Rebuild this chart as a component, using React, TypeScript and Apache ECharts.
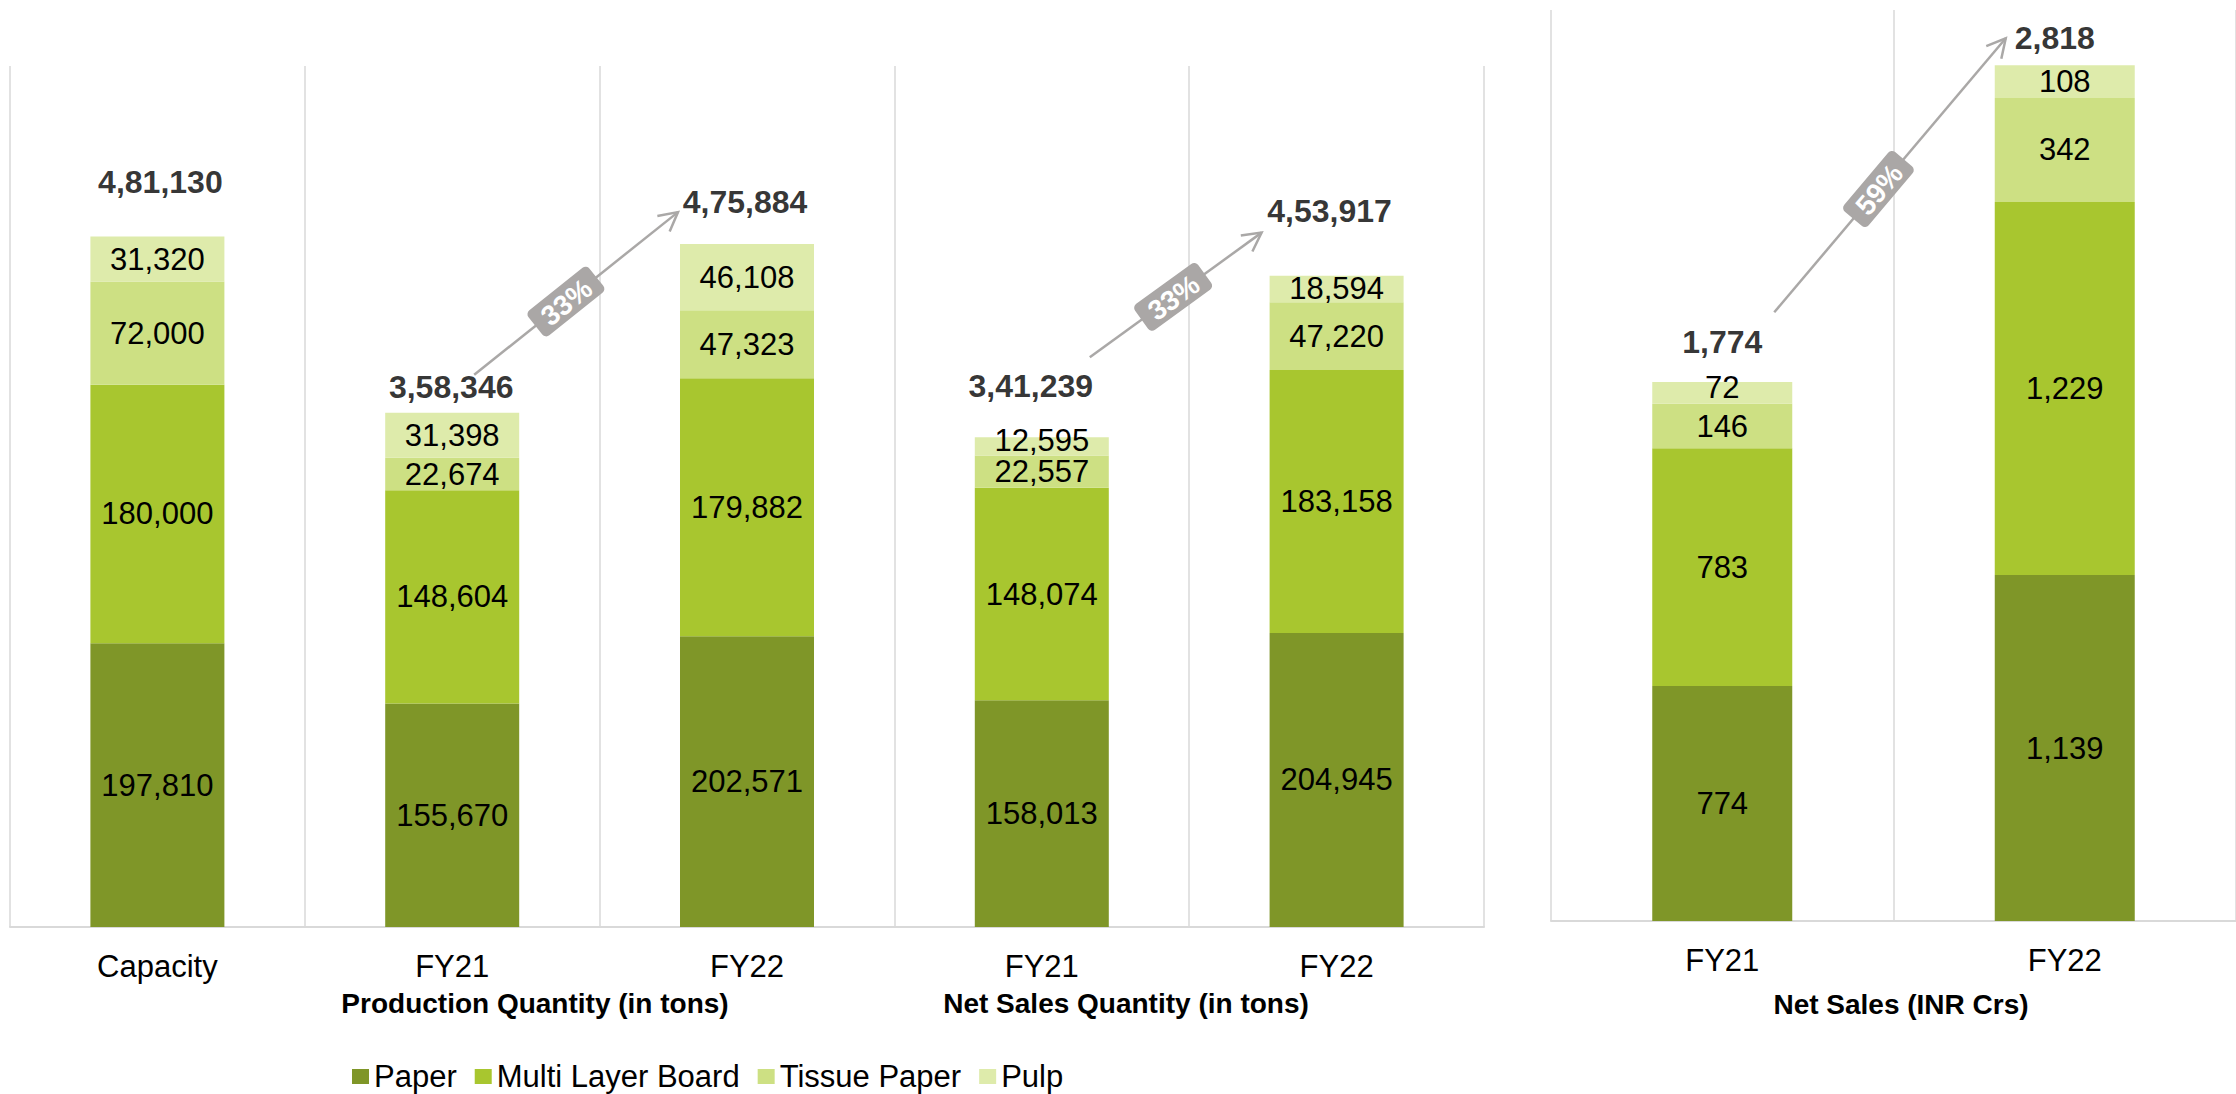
import React, { useEffect, useRef } from "react";
import * as echarts from "echarts";

// ---------- DATA ----------
const leftCategories = ["Capacity", "FY21", "FY22", "FY21", "FY22"];
const rightCategories = ["FY21", "FY22"];
const seriesNames = ["Paper", "Multi Layer Board", "Tissue Paper", "Pulp"];

const leftPaper = [197810, 155670, 202571, 158013, 204945];
const leftBoard = [180000, 148604, 179882, 148074, 183158];
const leftTissue = [72000, 22674, 47323, 22557, 47220];
const leftPulp = [31320, 31398, 46108, 12595, 18594];
const leftTotals = [481130, 358346, 475884, 341239, 453917];

const rightPaper = [774, 1139];
const rightBoard = [783, 1229];
const rightTissue = [146, 342];
const rightPulp = [72, 108];
const rightTotals = [1774, 2818];

const groupTitles = [
  "Production Quantity (in tons)",
  "Net Sales Quantity (in tons)",
  "Net Sales (INR Crs)",
];
const growthLabels = ["33%", "33%", "59%"];

// ---------- STYLE ----------
const COLORS = ["#7F9628", "#A8C62F", "#CDE083", "#DEEBAB"];
const FONT = "'Liberation Sans', Arial, Helvetica, sans-serif";
const GRAY = "#aaa8a7";

// label offsets (px) of the totals relative to the bar top centre
const leftTotalOffsets = [
  [3, -55],
  [-1, -26],
  [-2, -42],
  [-11, -51],
  [-7, -65],
];
const rightTotalOffsets = [
  [0, -40],
  [-10, -27],
];
// small vertical nudges of the pulp labels (px)
const leftPulpLabelShift = [0, 0, 0, -6, 0];
const rightPulpLabelShift = [-5, 0];

function fmtWestern(n: number): string {
  return String(n).replace(/\B(?=(\d{3})+(?!\d))/g, ",");
}
function fmtIndian(n: number): string {
  const s = String(Math.round(n));
  if (s.length <= 3) return s;
  const last3 = s.slice(-3);
  let rest = s.slice(0, -3);
  const parts: string[] = [];
  while (rest.length > 2) {
    parts.unshift(rest.slice(-2));
    rest = rest.slice(0, -2);
  }
  if (rest) parts.unshift(rest);
  return parts.join(",") + "," + last3;
}

export default function App() {
  const ref = useRef<HTMLDivElement>(null);

  useEffect(() => {
    if (!ref.current) return;
    const chart = echarts.init(ref.current, null, { renderer: "svg" });

    const leftData = [leftPaper, leftBoard, leftTissue, leftPulp];
    const rightData = [rightPaper, rightBoard, rightTissue, rightPulp];

    const segLabel = {
      show: true,
      position: "inside",
      formatter: (p: any) => fmtWestern(p.value),
      fontSize: 31,
      color: "#000",
      fontFamily: FONT,
    };

    const totalLabel = {
      show: true,
      position: "inside",
      formatter: (p: any) => fmtIndian(p.value),
      fontSize: 32,
      fontWeight: "bold",
      color: "#000",
      fontFamily: FONT,
    };

    const xAxisCommon = {
      type: "category",
      axisTick: { show: false },
      axisLine: { show: true, lineStyle: { color: "#d9d9d9", width: 2 } },
      splitLine: {
        show: true,
        interval: 0,
        lineStyle: { color: "#d9d9d9", width: 1.5 },
      },
      axisLabel: {
        interval: 0,
        margin: 24,
        fontSize: 31,
        color: "#000",
        fontFamily: FONT,
      },
    };

    const withShift = (d: number[], shift: number[]) =>
      d.map((v, j) =>
        shift[j] ? { value: v, label: { offset: [0, shift[j]] } } : v
      );

    const option: any = {
      animation: false,
      backgroundColor: "#fff",
      legend: {
        data: seriesNames,
        left: 347,
        top: 1056,
        itemWidth: 17,
        itemHeight: 15,
        itemGap: 18,
        icon: "rect",
        textStyle: { fontSize: 31, lineHeight: 31, color: "#000", fontFamily: FONT },
      },
      grid: [
        { left: 10, top: 66, width: 1474, height: 861 },
        { left: 1551, top: 10, width: 700, height: 911 },
      ],
      xAxis: [
        { ...xAxisCommon, gridIndex: 0, data: leftCategories },
        { ...xAxisCommon, gridIndex: 1, data: rightCategories },
      ],
      yAxis: [
        { type: "value", gridIndex: 0, min: 0, max: 600000, show: false },
        { type: "value", gridIndex: 1, min: 0, max: 3000, show: false },
      ],
      series: [
        ...leftData.map((d, i) => ({
          type: "bar",
          name: seriesNames[i],
          stack: "left",
          xAxisIndex: 0,
          yAxisIndex: 0,
          barWidth: 134,
          data: i === 3 ? withShift(d, leftPulpLabelShift) : d,
          itemStyle: { color: COLORS[i] },
          label: segLabel,
        })),
        ...rightData.map((d, i) => ({
          type: "bar",
          name: seriesNames[i],
          stack: "right",
          xAxisIndex: 1,
          yAxisIndex: 1,
          barWidth: 140,
          data: i === 3 ? withShift(d, rightPulpLabelShift) : d,
          itemStyle: { color: COLORS[i] },
          label: segLabel,
        })),
        {
          type: "scatter",
          xAxisIndex: 0,
          yAxisIndex: 0,
          symbolSize: 1,
          silent: true,
          itemStyle: { color: "rgba(0,0,0,0)" },
          data: leftTotals.map((v, i) => ({
            value: v,
            label: { offset: leftTotalOffsets[i] },
          })),
          label: totalLabel,
        },
        {
          type: "scatter",
          xAxisIndex: 1,
          yAxisIndex: 1,
          symbolSize: 1,
          silent: true,
          itemStyle: { color: "rgba(0,0,0,0)" },
          data: rightTotals.map((v, i) => ({
            value: v,
            label: { offset: rightTotalOffsets[i] },
          })),
          label: totalLabel,
        },
      ],
    };

    chart.setOption(option);

    // ---------- growth arrows, anchored on the totals ----------
    const arrowDefs = [
      { grid: 0, from: 1, to: 2, totals: leftTotals, s: [22, -38], e: [-69, -32], t: 0.45 },
      { grid: 0, from: 3, to: 4, totals: leftTotals, s: [48, -80], e: [-75, -43], t: 0.485 },
      { grid: 1, from: 0, to: 1, totals: rightTotals, s: [52, -70], e: [-59, -27], t: 0.45 },
    ];

    const elements: any[] = [];
    arrowDefs.forEach((a, k) => {
      const p0 = chart.convertToPixel({ gridIndex: a.grid }, [a.from, a.totals[a.from]]) as number[];
      const p1 = chart.convertToPixel({ gridIndex: a.grid }, [a.to, a.totals[a.to]]) as number[];
      const sx = p0[0] + a.s[0];
      const sy = p0[1] + a.s[1];
      const ex = p1[0] + a.e[0];
      const ey = p1[1] + a.e[1];
      const len = Math.hypot(ex - sx, ey - sy);
      const dx = (ex - sx) / len;
      const dy = (ey - sy) / len;
      const bx = -dx;
      const by = -dy;
      const half = (28 * Math.PI) / 180;
      const L = 21;
      const r1 = [
        ex + L * (bx * Math.cos(half) - by * Math.sin(half)),
        ey + L * (bx * Math.sin(half) + by * Math.cos(half)),
      ];
      const r2 = [
        ex + L * (bx * Math.cos(-half) - by * Math.sin(-half)),
        ey + L * (bx * Math.sin(-half) + by * Math.cos(-half)),
      ];
      const angle = Math.atan2(-(ey - sy), ex - sx);
      const cx = sx + (ex - sx) * a.t;
      const cy = sy + (ey - sy) * a.t;

      elements.push({
        type: "line",
        z: 10,
        silent: true,
        shape: { x1: sx, y1: sy, x2: ex, y2: ey },
        style: { stroke: GRAY, lineWidth: 2.5 },
      });
      elements.push({
        type: "polyline",
        z: 10,
        silent: true,
        shape: { points: [r1, [ex, ey], r2] },
        style: { stroke: GRAY, lineWidth: 2.5, fill: "none" },
      });
      elements.push({
        type: "group",
        x: cx,
        y: cy,
        rotation: angle,
        z: 11,
        silent: true,
        children: [
          {
            type: "rect",
            z: 11,
            shape: { x: -39, y: -16, width: 78, height: 32, r: 5 },
            style: { fill: "#aaa7a6" },
          },
          {
            type: "text",
            z: 12,
            style: {
              text: growthLabels[k],
              x: 0,
              y: 1,
              align: "center",
              verticalAlign: "middle",
              fill: "#fff",
              fontSize: 28,
              fontWeight: "bold",
              fontFamily: FONT,
            },
          },
        ],
      });
    });

    const titlePos = [
      [535, 1003],
      [1126, 1003],
      [1901, 1004],
    ];
    groupTitles.forEach((t, i) => {
      elements.push({
        type: "text",
        x: titlePos[i][0],
        y: titlePos[i][1],
        silent: true,
        style: {
          text: t,
          align: "center",
          verticalAlign: "middle",
          fill: "#000",
          fontSize: 28,
          fontWeight: "bold",
          fontFamily: FONT,
        },
      });
    });

    chart.setOption({ graphic: { elements } });

    return () => {
      chart.dispose();
    };
  }, []);

  return (
    <div
      ref={ref}
      style={{
        position: "fixed",
        left: 0,
        top: 0,
        width: 2236,
        height: 1094,
        background: "#fff",
      }}
    />
  );
}
